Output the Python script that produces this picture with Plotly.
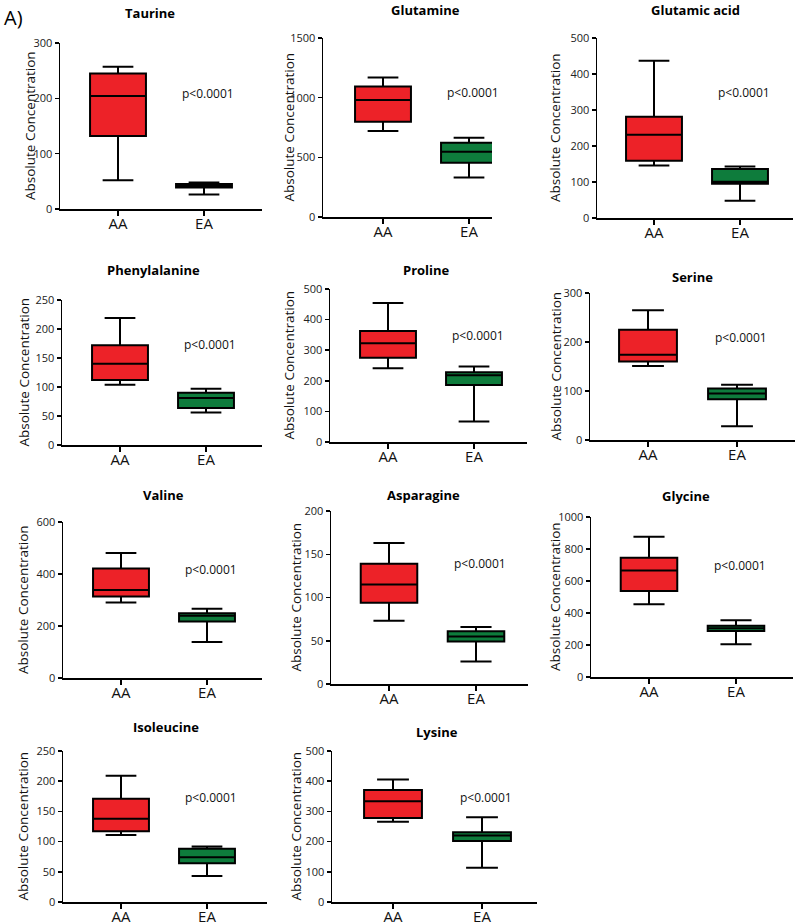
import plotly.graph_objects as go

# ---------------- data ----------------
names = ["Taurine", "Glutamine", "Glutamic acid", "Phenylalanine", "Proline",
         "Serine", "Valine", "Asparagine", "Glycine", "Isoleucine", "Lysine"]
groups = ["AA", "EA"]

aa_min = [52, 720, 146, 104, 241, 151, 290, 73, 454, 111, 266]
aa_q1 = [132, 799, 159, 112, 275, 160, 313, 94, 537, 117, 278]
aa_med = [204, 981, 231, 140, 323, 174, 338, 115, 665, 138, 334]
aa_q3 = [245, 1093, 281, 172, 363, 225, 421, 139, 746, 171, 371]
aa_max = [257, 1169, 437, 219, 454, 265, 481, 163, 877, 209, 406]

ea_min = [26, 331, 48, 56, 67, 28, 138, 26, 204, 43, 113]
ea_q1 = [39, 454, 95, 64, 186, 83, 217, 49, 287, 64, 202]
ea_med = [42, 547, 101, 81, 218, 95, 239, 55, 304, 74, 220]
ea_q3 = [45, 622, 136, 90, 228, 105, 249, 61, 321, 88, 231]
ea_max = [48, 664, 143, 97, 247, 113, 266, 66, 354, 92, 281]

y_max = [300, 1500, 500, 250, 500, 300, 600, 200, 1000, 250, 500]
y_dtick = [100, 500, 100, 50, 100, 100, 200, 50, 200, 50, 100]
p_text = "p<0.0001"
y_title = "Absolute Concentration"

# ---------------- layout geometry (window pixels) ----------------
W, H = 800, 924
ax_left = [60, 323, 597, 62, 330, 590, 63, 331, 591, 63, 332]
ax_right = [262, 492, 793, 262, 527, 795, 262, 528, 793, 267, 537]
px_aa = [118, 383, 654, 120, 388, 648, 121, 389, 649, 121, 393]
px_ea = [204, 469, 740, 206, 474, 737, 207, 476, 736, 207, 482]
ax_top = [43, 38, 38, 300, 289, 293, 522, 511, 517, 751, 751]
ax_bot = [209, 217, 218, 445, 442, 440, 678, 684, 677, 902, 902]
title_x = [150, 425, 695, 153, 427, 692, 163, 423, 686, 166, 437]
title_y = [13, 10, 10, 270, 270, 277, 495, 495, 496, 727, 732]
ytitle_x = [30, 288, 555, 23, 288, 555, 23, 295, 555, 22, 295]


def fx(px):
    return px / W


def fy(py):
    return 1 - py / H


RED = "#ED2228"
GREEN = "#0E7C3C"
FONT = "Open Sans, Noto Sans, sans-serif"

fig = go.Figure()
annotations = []

for i, name in enumerate(names):
    n = i + 1
    xa = "x" if n == 1 else f"x{n}"
    ya = "y" if n == 1 else f"y{n}"
    for g, col, mn, q1, md, q3, mx in [
        ("AA", RED, aa_min, aa_q1, aa_med, aa_q3, aa_max),
        ("EA", GREEN, ea_min, ea_q1, ea_med, ea_q3, ea_max),
    ]:
        fig.add_trace(go.Box(
            x=[g], q1=[q1[i]], median=[md[i]], q3=[q3[i]],
            lowerfence=[mn[i]], upperfence=[mx[i]],
            fillcolor=col, line=dict(color="black", width=2),
            width=0.65, whiskerwidth=0.55, boxpoints=False,
            xaxis=xa, yaxis=ya, showlegend=False, hoverinfo="skip",
        ))

    unit = px_ea[i] - px_aa[i]
    lo = -(px_aa[i] - ax_left[i]) / unit
    hi = 1 + (ax_right[i] - px_ea[i]) / unit
    xkey = "xaxis" if n == 1 else f"xaxis{n}"
    ykey = "yaxis" if n == 1 else f"yaxis{n}"
    fig.layout[xkey] = dict(
        domain=[fx(ax_left[i]), min(1, fx(ax_right[i]))], anchor=ya,
        type="category", categoryorder="array", categoryarray=groups,
        range=[lo, hi], showline=True, linecolor="black", linewidth=1.5,
        ticks="outside", ticklen=5, tickwidth=1.5, tickcolor="black",
        ticklabelstandoff=-5,
        showgrid=False, zeroline=False,
        tickfont=dict(family=FONT, size=15, color="#111"),
    )
    fig.layout[ykey] = dict(
        domain=[fy(ax_bot[i]), fy(ax_top[i])], anchor=xa,
        range=[0, y_max[i]], tick0=0, dtick=y_dtick[i],
        showline=True, linecolor="black", linewidth=1.5,
        ticks="outside", ticklen=4, tickwidth=1.5, tickcolor="black",
        showgrid=False, zeroline=False,
        tickfont=dict(family=FONT, size=11, color="#222"),
    )
    # panel title
    annotations.append(dict(
        text=f"<b>{name}</b>", x=fx(title_x[i]), y=fy(title_y[i]),
        xref="paper", yref="paper", showarrow=False,
        xanchor="center", yanchor="middle",
        font=dict(family=FONT, size=13, color="black"),
    ))
    # y-axis title
    annotations.append(dict(
        text=y_title, x=fx(ytitle_x[i]),
        y=fy((ax_top[i] + ax_bot[i]) / 2),
        xref="paper", yref="paper", showarrow=False, textangle=-90,
        xanchor="center", yanchor="middle",
        font=dict(family=FONT, size=13.5, color="#111"),
    ))
    # p-value
    annotations.append(dict(
        text=p_text, x="EA", y=0.695, xref=xa, yref=f"{ya} domain",
        xshift=4, showarrow=False, xanchor="center", yanchor="middle",
        font=dict(family=FONT, size=12, color="#111"),
    ))

annotations.append(dict(
    text="A)", x=fx(2), y=fy(18), xref="paper", yref="paper",
    showarrow=False, xanchor="left", yanchor="middle",
    font=dict(family=FONT, size=20, color="black"),
))

fig.update_layout(
    width=W, height=H, margin=dict(l=0, r=0, t=0, b=0, autoexpand=False),
    paper_bgcolor="white", plot_bgcolor="white",
    showlegend=False, annotations=annotations,
)

# remove the default page margin so the figure sits at the window origin
fig.write_html("out.html",
               config={"displayModeBar": False, "staticPlot": True},
               post_script="document.body.style.margin='0px';"
                           "document.body.style.overflow='hidden';")
